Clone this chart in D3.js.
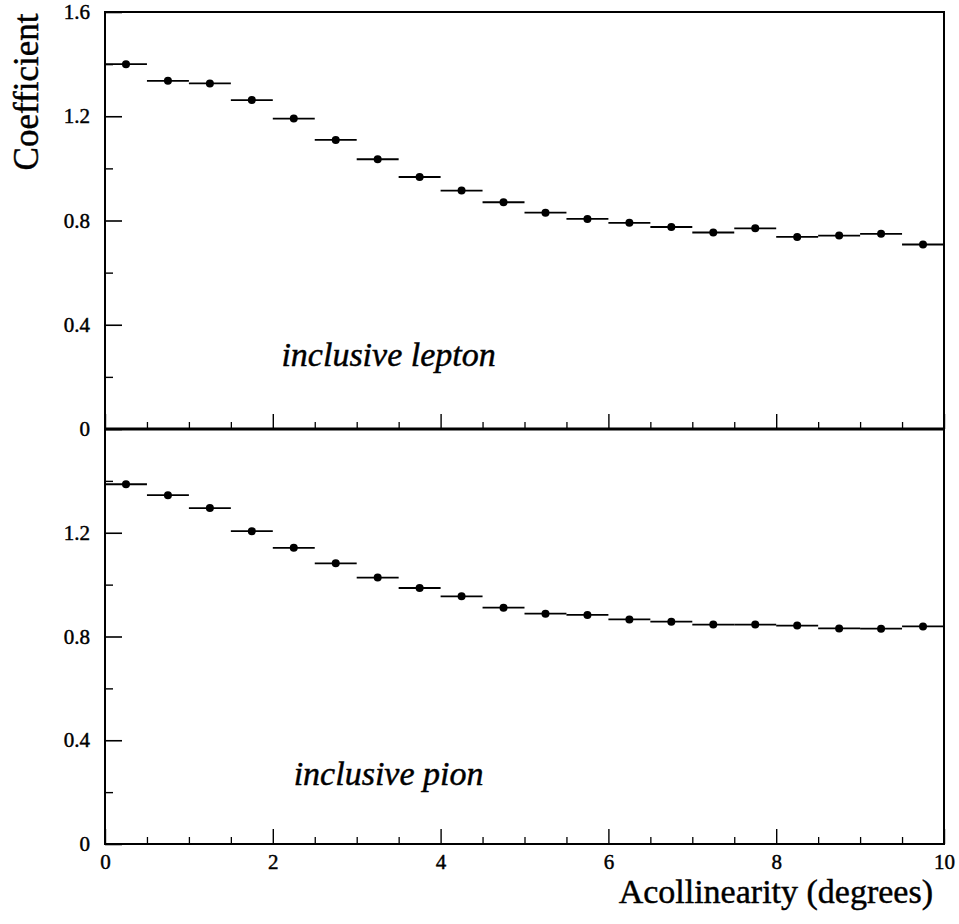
<!DOCTYPE html>
<html>
<head>
<meta charset="utf-8">
<script src="https://cdn.jsdelivr.net/npm/d3@7"></script>
<style>
  html, body { margin: 0; padding: 0; background: #fff; }
  svg { display: block; }
  svg text { font-family: 'Liberation Serif', 'DejaVu Serif', serif !important; fill: #000; stroke: #000; stroke-width: 0.45px; }
  .tick text { font-size: 21px !important; }
</style>
</head>
<body>
<svg id="chart" width="959" height="924"></svg>
<script>
// ---- Data ----
const binCenters = [0.25, 0.75, 1.25, 1.75, 2.25, 2.75, 3.25, 3.75, 4.25, 4.75,
                    5.25, 5.75, 6.25, 6.75, 7.25, 7.75, 8.25, 8.75, 9.25, 9.75];
const binHalfWidth = 0.25;
const leptonValues = [1.400, 1.336, 1.326, 1.262, 1.191, 1.109, 1.035, 0.967, 0.915, 0.870,
                      0.830, 0.806, 0.791, 0.775, 0.754, 0.770, 0.737, 0.742, 0.749, 0.708];
const pionValues   = [1.387, 1.345, 1.295, 1.206, 1.142, 1.082, 1.027, 0.987, 0.955, 0.911,
                      0.888, 0.883, 0.866, 0.857, 0.846, 0.846, 0.842, 0.831, 0.830, 0.839];
const xMajorTicks = [0, 2, 4, 6, 8, 10];
const xTickLabels = ["0", "2", "4", "6", "8", "10"];
const xMinorTicks = [0.5, 1, 1.5, 2.5, 3, 3.5, 4.5, 5, 5.5, 6.5, 7, 7.5, 8.5, 9, 9.5];
const yTopMajor = [0, 0.4, 0.8, 1.2, 1.6];
const yTopLabels = ["0", "0.4", "0.8", "1.2", "1.6"];
const yBotMajor = [0, 0.4, 0.8, 1.2];
const yBotLabels = ["0", "0.4", "0.8", "1.2"];
const yMinor = [0.2, 0.6, 1.0, 1.4];
const panelLabels = ["inclusive lepton", "inclusive pion"];
const xTitle = "Acollinearity (degrees)";
const yTitle = "Coefficient";

// ---- Layout ----
const svg = d3.select("#chart");
const L = 105, R = 944, T = 12, M = 429, B = 844;
const serif = "'Liberation Serif', serif";

const x = d3.scaleLinear().domain([0, 10]).range([L, R]);
const yTop = d3.scaleLinear().domain([0, 1.6]).range([M, T]);
const yBot = d3.scaleLinear().domain([0, 1.6]).range([B, M]);

function styleAxis(g) {
  g.attr("font-family", serif).attr("font-size", 21);
  g.select(".domain").remove();
}

function drawPanel(y, values, majors, labels, showXLabels, label, labelY) {
  const g = svg.append("g");
  // y major ticks with labels
  const yAx = d3.axisLeft(y).tickValues(majors)
      .tickFormat((d, i) => labels[i]).tickSize(-17).tickPadding(15);
  const gy = g.append("g").attr("transform", `translate(${L},0)`).call(yAx);
  styleAxis(gy);
  gy.selectAll("line").attr("stroke", "#000").attr("stroke-width", 1.6);
  // y minor ticks
  const gym = g.append("g").attr("transform", `translate(${L},0)`)
      .call(d3.axisLeft(y).tickValues(yMinor).tickFormat("").tickSize(-8));
  styleAxis(gym);
  gym.selectAll("line").attr("stroke", "#000").attr("stroke-width", 1.4);

  // x ticks at panel bottom
  const yb = y.range()[0];
  const xAx = d3.axisBottom(x).tickValues(xMajorTicks)
      .tickFormat((d, i) => showXLabels ? xTickLabels[i] : "").tickSize(-15).tickPadding(10);
  const gx = g.append("g").attr("transform", `translate(0,${yb})`).call(xAx);
  styleAxis(gx);
  gx.selectAll("line").attr("stroke", "#000").attr("stroke-width", 1.4);
  const gxm = g.append("g").attr("transform", `translate(0,${yb})`)
      .call(d3.axisBottom(x).tickValues(xMinorTicks).tickFormat("").tickSize(-7));
  styleAxis(gxm);
  gxm.selectAll("line").attr("stroke", "#000").attr("stroke-width", 1.3);

  // error bars
  g.selectAll("line.err").data(values).enter().append("line")
    .attr("class", "err")
    .attr("x1", (d, i) => x(binCenters[i] - binHalfWidth))
    .attr("x2", (d, i) => x(binCenters[i] + binHalfWidth))
    .attr("y1", d => y(d)).attr("y2", d => y(d))
    .attr("stroke", "#000").attr("stroke-width", 1.8);
  // points
  g.selectAll("circle.pt").data(values).enter().append("circle")
    .attr("class", "pt")
    .attr("cx", (d, i) => x(binCenters[i]))
    .attr("cy", d => y(d))
    .attr("r", 4).attr("fill", "#000");

  // panel label
  g.append("text").attr("x", x(3.38)).attr("y", labelY)
    .attr("text-anchor", "middle")
    .attr("font-family", serif)
    .attr("font-size", 34).attr("font-style", "italic")
    .text(label);
}

drawPanel(yTop, leptonValues, yTopMajor, yTopLabels, false, panelLabels[0], 366);
drawPanel(yBot, pionValues, yBotMajor, yBotLabels, true, panelLabels[1], 785);

// frame
svg.append("rect").attr("x", L).attr("y", T).attr("width", R - L).attr("height", B - T)
  .attr("fill", "none").attr("stroke", "#000").attr("stroke-width", 2);
svg.append("line").attr("x1", L).attr("x2", R).attr("y1", M).attr("y2", M)
  .attr("stroke", "#000").attr("stroke-width", 3);

// axis titles
svg.append("text").attr("x", 933).attr("y", 903).attr("text-anchor", "end")
  .attr("font-family", serif).attr("font-size", 34).text(xTitle);
svg.append("text").attr("transform", "translate(38,92) rotate(-90)")
  .attr("text-anchor", "middle").attr("font-family", serif).attr("font-size", 35).text(yTitle);
</script>
</body>
</html>
